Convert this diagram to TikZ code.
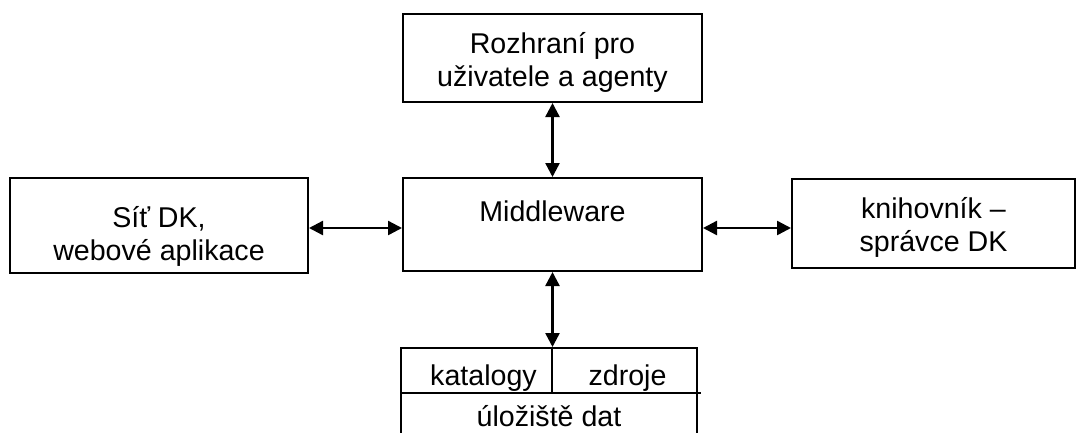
\documentclass[tikz,border=0pt]{standalone}
\usepackage{fontspec}
\setmainfont{Liberation Sans}
\usetikzlibrary{arrows.meta}
\tikzset{
  box/.style={draw, line width=2pt, rectangle, align=center, inner sep=0pt},
  link/.style={line width=2.4pt, {Triangle[length=14pt,width=14pt]}-{Triangle[length=14pt,width=14pt]}},
  txt/.style={align=center, inner sep=0pt}
}
\begin{document}
\begin{tikzpicture}[x=1pt,y=-1pt,font=\fontsize{28.6}{33}\selectfont]
\useasboundingbox (0,0) rectangle (1078,432);
\clip (0,0) rectangle (1078,432);
% boxes
\node[box, minimum width=299pt, minimum height=88pt] (ui) at (552.5,58) {};
\node[txt] (uitxt) at (552.5,62) {Rozhraní pro\\uživatele a agenty};
\node[box, minimum width=299pt, minimum height=93pt] (mid) at (552.5,224.5) {};
\node[txt] (midtxt) at (552.5,211) {Middleware};
\node[box, minimum width=298pt, minimum height=95pt] (net) at (159,225.5) {};
\node[txt] (nettxt) at (159,236) {Síť DK,\\webové aplikace};
\node[box, minimum width=283pt, minimum height=89pt] (lib) at (933.5,223.5) {};
\node[txt] (libtxt) at (933.5,227) {knihovník –\\správce DK};
\node[box, minimum width=296pt, minimum height=97pt] (store) at (549,396.5) {};
% store compartments
\coordinate (rowL) at (401,393);
\coordinate (rowR) at (701,393);
\coordinate (divT) at (552,348);
\coordinate (divB) at (552,393);
\draw[line width=2pt] (rowL) -- (rowR);
\draw[line width=2pt] (divT) -- (divB);
\node[txt] (cat) at (483.5,378) {katalogy};
\node[txt] (src) at (627.5,378) {zdroje};
\node[txt] (dat) at (549,416) {úložiště dat};
% connectors
\draw[link] (ui.south) -- (mid.north);
\draw[link] (mid.south) -- (mid.south |- store.north);
\draw[link] (net.east |- 0,228) -- (mid.west |- 0,228);
\draw[link] (mid.east |- 0,228) -- (lib.west |- 0,228);
\end{tikzpicture}
\end{document}
